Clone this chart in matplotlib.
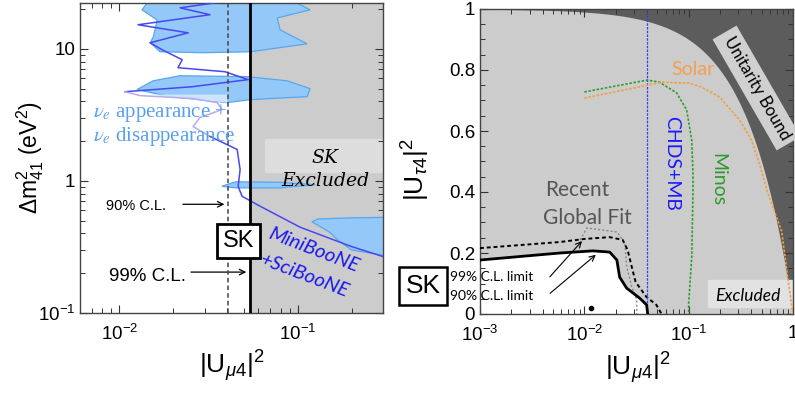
import numpy as np
import matplotlib
matplotlib.use("Agg")
import matplotlib.pyplot as plt
from matplotlib.ticker import FixedLocator, FixedFormatter, LogLocator, MultipleLocator, NullFormatter
from matplotlib.patches import Rectangle

plt.rcParams['font.family'] = ['Liberation Sans', 'DejaVu Sans']
plt.rcParams['mathtext.fontset'] = 'custom'
plt.rcParams['mathtext.rm'] = 'Liberation Sans'
plt.rcParams['mathtext.it'] = 'Liberation Sans:italic'
plt.rcParams['mathtext.bf'] = 'Liberation Sans:bold'

# ── left panel data: (|U_mu4|^2, dm41^2 [eV^2]) ────────────────────────────
sk90_umu4 = 0.0405
sk99_umu4 = 0.054

# nu_e appearance + disappearance allowed islands
isl1_x = [0.0149, 0.0134, 0.0163, 0.0155, 0.0149, 0.0169, 0.0295, 0.0541, 0.1127, 0.0796, 0.0766, 0.1172, 0.0883]
isl1_y = [24.0, 19.7, 16.5, 12.3, 11.1, 9.49, 9.33, 9.49, 10.9, 13.9, 17.1, 19.7, 24.0]
isl2_x = [0.01256, 0.01545, 0.0219, 0.0520, 0.0871, 0.1172, 0.1127, 0.0541, 0.0402, 0.0219, 0.0169]
isl2_y = [4.91, 5.72, 6.25, 6.15, 5.72, 4.99, 4.34, 4.12, 3.91, 4.26, 4.50]
isl2b_x = [0.0149, 0.0402, 0.0402, 0.025]
isl2b_y = [4.50, 4.50, 3.91, 4.15]
isl3_x = [0.0375, 0.045, 0.08, 0.125, 0.08, 0.045]
isl3_y = [0.91, 0.985, 0.975, 0.935, 0.885, 0.885]
isl4_x = [0.12, 0.13, 0.2, 0.32, 0.32, 0.2, 0.17, 0.15]
isl4_y = [0.49, 0.515, 0.525, 0.53, 0.27, 0.30, 0.35, 0.41]

# MiniBooNE+SciBooNE contour
mb1_x = [0.0507, 0.0219, 0.0322, 0.01273, 0.0243, 0.01486, 0.01736, 0.0225, 0.0213, 0.0391, 0.0527, 0.02556, 0.01076]
mb1_y = [24.0, 20.4, 18.1, 15.2, 13.2, 11.1, 9.83, 8.26, 7.19, 6.70, 5.84, 5.16, 4.73]
mb2_x = [0.01076, 0.01306, 0.0259, 0.0353, 0.0377, 0.0283, 0.0259, 0.0322]
mb2_y = [4.73, 4.42, 4.20, 3.91, 3.47, 3.02, 2.58, 2.17]
mb3_x = [0.0322, 0.0457, 0.0475, 0.0463, 0.0487, 0.0615, 0.103, 0.1965, 0.32]
mb3_y = [2.17, 1.73, 1.22, 0.909, 0.764, 0.643, 0.446, 0.321, 0.26]

# ── right panel data: (|U_mu4|^2, |U_tau4|^2) ──────────────────────────────
sk90_x = [0.001, 0.00583, 0.0121, 0.0175, 0.0205, 0.0218, 0.0254, 0.0339, 0.0395, 0.0405]
sk90_y = [0.177, 0.200, 0.207, 0.203, 0.177, 0.121, 0.085, 0.052, 0.030, 0.0]
sk99_x = [0.001, 0.00583, 0.010, 0.0175, 0.0233, 0.026, 0.0285, 0.031, 0.0394, 0.049, 0.055]
sk99_y = [0.216, 0.236, 0.246, 0.252, 0.243, 0.210, 0.154, 0.105, 0.056, 0.030, 0.0]
glob_x = [0.0091, 0.0106, 0.0205, 0.0244, 0.0255, 0.0285, 0.0318, 0.0318]
glob_y = [0.243, 0.282, 0.269, 0.233, 0.154, 0.089, 0.046, 0.0]
minos_x = [0.01, 0.04, 0.0525, 0.0767, 0.0957, 0.107, 0.11, 0.11, 0.107, 0.1, 0.1]
minos_y = [0.728, 0.767, 0.76, 0.725, 0.669, 0.57, 0.46, 0.40, 0.187, 0.036, 0.0]
solar_x = [0.01, 0.04, 0.055, 0.1, 0.133, 0.198, 0.308, 0.40, 0.47, 0.57, 0.78, 0.88, 1.0]
solar_y = [0.708, 0.75, 0.76, 0.757, 0.744, 0.711, 0.636, 0.57, 0.50, 0.40, 0.27, 0.13, 0.0]
chds_umu4 = 0.04
bf_point = (0.0117, 0.02)
unit_x = np.logspace(-3, 0, 200)

LBLUE = '#94c8f8'
EBLUE = '#55a8f0'
GRAY = '#cccccc'
DARK = '#5c5c5c'


def style_axis(ax):
    ax.tick_params(which='both', direction='in', top=True, right=True,
                   labelsize=13.5, colors='#333333', labelcolor='black')
    ax.tick_params(which='major', length=6, width=0.8)
    ax.tick_params(which='minor', length=3.5, width=0.7)
    for s in ax.spines.values():
        s.set_color('#444444')
        s.set_linewidth(1.0)


fig = plt.figure(figsize=(7.95, 3.94), dpi=100)

# ── 1. left panel ─────────────────────────────────────────────────────────
ax1 = fig.add_axes([80 / 795, (394 - 313) / 394, 303 / 795, 310 / 394])
ax1.set_xscale('log'); ax1.set_yscale('log')
ax1.set_xlim(0.00602, 0.3)
ax1.set_ylim(0.1, 22.2)

ax1.axvspan(sk99_umu4, 1, color=GRAY, zorder=0)
ax1.add_patch(Rectangle((0.0656, 1.16), 0.5, 2.06 - 1.16, color='#dddddd', zorder=1))

for xs, ys in [(isl1_x, isl1_y), (isl2_x, isl2_y), (isl3_x, isl3_y), (isl4_x, isl4_y)]:
    ax1.fill(xs, ys, facecolor=LBLUE, edgecolor=EBLUE, linewidth=0.9, zorder=2)
ax1.fill(isl2b_x, isl2b_y, facecolor='#cfe4fb', edgecolor='none', zorder=2)

ax1.plot(mb1_x, mb1_y, color='#4848f0', lw=1.1, zorder=3)
ax1.plot(mb2_x, mb2_y, color='#b4acf0', lw=1.1, zorder=3)
ax1.plot(mb3_x, mb3_y, color='#4848f0', lw=1.1, zorder=3)

ax1.axvline(sk90_umu4, color='#444444', ls=(0, (3, 2)), lw=1.1, zorder=4)
ax1.axvline(sk99_umu4, color='black', lw=2.0, zorder=4)

ax1.text(0.0071, 3.29, r'$\nu_e$ appearance +', color='#5aa0f0', fontsize=15,
         family='Liberation Serif', math_fontfamily='stix', va='center', zorder=5)
ax1.text(0.0071, 2.16, r'$\nu_e$ disappearance', color='#5aa0f0', fontsize=15,
         family='Liberation Serif', math_fontfamily='stix', va='center', zorder=5)
ax1.text(0.1422, 1.50, 'SK', fontsize=13.5, style='italic', family='DejaVu Serif',
         ha='center', va='center', zorder=5)
ax1.text(0.1422, 0.991, 'Excluded', fontsize=13.5, style='italic', family='DejaVu Serif',
         ha='center', va='center', zorder=5)

ax1.text(0.0124, 0.64, '90% C.L.', fontsize=10.5, ha='center', va='center')
ax1.annotate('', xy=(0.0402, 0.665), xytext=(0.0219, 0.665),
             arrowprops=dict(arrowstyle='->', lw=0.9, color='black'))
ax1.text(0.0143, 0.19, '99% C.L.', fontsize=13.5, ha='center', va='center')
ax1.annotate('', xy=(0.0533, 0.204), xytext=(0.0243, 0.204),
             arrowprops=dict(arrowstyle='->', lw=0.9, color='black'))
ax1.text(0.0463, 0.35, 'SK', fontsize=17, ha='center', va='center', zorder=6,
         bbox=dict(boxstyle='square,pad=0.25', facecolor='white', edgecolor='black', lw=2))
ax1.text(0.1221, 0.30, 'MiniBooNE', fontsize=14.5, color='#1a1aee', style='italic',
         family='Lato', rotation=-21, ha='center', va='center', zorder=5)
ax1.text(0.110, 0.19, '+SciBooNE', fontsize=14.5, color='#1a1aee', style='italic',
         family='Lato', rotation=-21, ha='center', va='center', zorder=5)

ax1.xaxis.set_major_locator(FixedLocator([0.01, 0.1]))
ax1.xaxis.set_major_formatter(FixedFormatter([r'$10^{-2}$', r'$10^{-1}$']))
ax1.xaxis.set_minor_locator(LogLocator(base=10, subs=np.arange(2, 10)))
ax1.xaxis.set_minor_formatter(NullFormatter())
ax1.yaxis.set_major_locator(FixedLocator([0.1, 1, 10]))
ax1.yaxis.set_major_formatter(FixedFormatter([r'$10^{-1}$', '1', '10']))
ax1.yaxis.set_minor_locator(LogLocator(base=10, subs=np.arange(2, 10)))
ax1.yaxis.set_minor_formatter(NullFormatter())
style_axis(ax1)
ax1.tick_params(axis='x', pad=8)

fig.text(232 / 795, 1 - 366 / 394, r'$\mathrm{|U}_{\mu 4}\mathrm{|}^2$', fontsize=19,
         ha='center', va='center')
fig.text(30 / 795, 1 - 158 / 394, r'$\Delta \mathrm{m}^2_{41}$ (eV$^2$)', fontsize=16.5,
         rotation=90, ha='center', va='center')

# ── 2. right panel ────────────────────────────────────────────────────────
ax2 = fig.add_axes([480 / 795, (394 - 314) / 394, 313 / 795, 305 / 394])
ax2.set_xscale('log')
ax2.set_xlim(1e-3, 1)
ax2.set_ylim(0, 1)
ax2.set_facecolor(GRAY)

ax2.fill_between(unit_x, 1 - unit_x, 1.0, color=DARK, lw=0, zorder=1)
ax2.fill_between(sk90_x, 0, sk90_y, color='white', lw=0, zorder=1)

ax2.plot(glob_x, glob_y, color='#888888', ls=(0, (1.5, 1.5)), lw=1.0, zorder=3)
ax2.plot(sk99_x, sk99_y, color='black', ls=(0, (2, 1.5)), lw=1.4, zorder=3)
ax2.plot(sk90_x, sk90_y, color='black', lw=2.0, zorder=4)
ax2.axvline(chds_umu4, color='#3a3aff', ls=(0, (2, 1)), lw=0.9, zorder=3)
ax2.plot(minos_x, minos_y, color='#2e9e2e', ls=(0, (1.5, 1)), lw=1.2, zorder=3)
ax2.plot(solar_x, solar_y, color='#f0a040', ls=(0, (1.5, 1)), lw=1.2, zorder=3)
ax2.plot(*bf_point, 'o', color='black', ms=3, zorder=5)

ax2.text(0.109, 0.80, 'Solar', color='#f5a050', fontsize=14, family='Lato',
         ha='center', va='center')
ax2.text(0.0687, 0.495, 'CHDS+MB', color='#1a1aff', fontsize=14, family='Lato',
         rotation=-90, ha='center', va='center')
ax2.text(0.19, 0.44, 'Minos', color='#2b9a2b', fontsize=14, family='Lato',
         rotation=-90, ha='center', va='center')
ax2.text(0.00848, 0.407, 'Recent', color='#555555', fontsize=15, family='Lato',
         ha='center', va='center')
ax2.text(0.0108, 0.315, 'Global Fit', color='#555555', fontsize=15, family='Lato',
         ha='center', va='center')
ax2.text(0.448, 0.741, 'Unitarity Bound', fontsize=12, family='Lato', rotation=-60,
         ha='center', va='center', zorder=5,
         bbox=dict(boxstyle='square,pad=0.35', facecolor='#d0d0d0', edgecolor='none'))
ax2.add_patch(Rectangle((0.152, 0.023), 1.0, 0.088, color='#e2e2e2', zorder=2))
ax2.text(0.367, 0.059, 'Excluded', fontsize=12.5, family='Lato', style='italic',
         ha='center', va='center', zorder=5)

ax2.text(0.000516, 0.121, '99% C.L. limit', fontsize=10, family='Lato',
         ha='left', va='center', clip_on=False, zorder=6)
ax2.text(0.000516, 0.059, '90% C.L. limit', fontsize=10, family='Lato',
         ha='left', va='center', clip_on=False, zorder=6)
ax2.annotate('', xy=(0.00989, 0.246), xytext=(0.00448, 0.115),
             arrowprops=dict(arrowstyle='->', lw=0.8, color='black'), zorder=6)
ax2.annotate('', xy=(0.0135, 0.20), xytext=(0.00448, 0.062),
             arrowprops=dict(arrowstyle='->', lw=0.8, color='black'), zorder=6)

ax2.xaxis.set_major_locator(FixedLocator([1e-3, 1e-2, 1e-1, 1]))
ax2.xaxis.set_major_formatter(FixedFormatter([r'$10^{-3}$', r'$10^{-2}$', r'$10^{-1}$', '1']))
ax2.xaxis.set_minor_locator(LogLocator(base=10, subs=np.arange(2, 10)))
ax2.xaxis.set_minor_formatter(NullFormatter())
ax2.yaxis.set_major_locator(FixedLocator([0, 0.2, 0.4, 0.6, 0.8, 1.0]))
ax2.yaxis.set_major_formatter(FixedFormatter(['0', '0.2', '0.4', '0.6', '0.8', '1']))
ax2.yaxis.set_minor_locator(MultipleLocator(0.05))
style_axis(ax2)
ax2.tick_params(axis='x', pad=8)

fig.text(423 / 795, 1 - 286 / 394, 'SK', fontsize=19, ha='center', va='center',
         bbox=dict(boxstyle='square,pad=0.25', facecolor='white', edgecolor='black', lw=1.8))
fig.text(638 / 795, 1 - 368 / 394, r'$\mathrm{|U}_{\mu 4}\mathrm{|}^2$', fontsize=19,
         ha='center', va='center')
fig.text(416 / 795, 1 - 170 / 394, r'$\mathrm{|U}_{\tau 4}\mathrm{|}^2$', fontsize=19,
         rotation=90, ha='center', va='center')

fig.savefig('out.png', dpi=100)
